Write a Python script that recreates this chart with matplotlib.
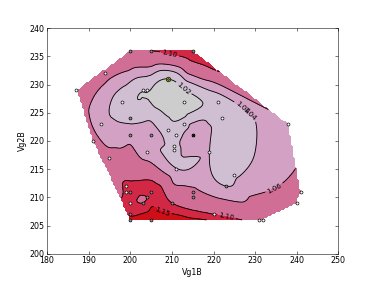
import numpy as np
import matplotlib
matplotlib.use("Agg")
import matplotlib.pyplot as plt
import matplotlib.tri as mtri

# measured points (Vg1B, Vg2B) and the value at each one
vg1 = [200, 205, 215, 194, 187, 209, 203, 204, 198, 213, 221, 200, 222, 193,
       238, 213, 209, 200, 205, 211, 215, 191, 210.4, 210.4, 204, 219, 195,
       211, 225, 223, 199, 199, 200, 205, 215, 241, 204, 215, 200, 203, 210,
       240, 200, 220, 200, 205, 231, 232]
vg2 = [236, 236, 236, 232, 229, 231, 229, 229, 227, 227, 227, 224, 224, 223,
       223, 223, 222, 221, 221, 221, 221, 220, 219.2, 218.4, 218, 218, 217,
       215, 214, 212, 212, 211, 211, 211, 211, 211, 210, 210, 209, 209, 209,
       209, 207, 207, 206, 206, 206, 206]
val = [1.095, 1.10, 1.13, 1.07, 1.08, 1.02, 1.021, 1.021, 1.03, 1.008, 1.03,
       1.035, 1.03, 1.05, 1.06, 1.028, 1.03, 1.052, 1.052, 1.03, 1.056, 1.07,
       1.035, 1.035, 1.05, 1.04, 1.07, 1.041, 1.038, 1.04, 1.105, 1.105, 1.11,
       1.12, 1.065, 1.07, 1.10, 1.068, 1.11, 1.10, 1.10, 1.075, 1.14, 1.10,
       1.17, 1.20, 1.09, 1.09]
# 1 = grey filled marker, 0 = white marker
grey_pt = [1, 1, 1, 0, 0, 1, 0, 0, 0, 0, 0, 1, 0, 0,
           0, 0, 0, 1, 1, 0, 1, 0, 0, 0, 0, 0, 0,
           0, 0, 1, 0, 0, 1, 1, 1, 0, 1, 1, 0, 1, 1,
           0, 1, 0, 1, 1, 0, 0]

levels = [0.9, 1.02, 1.04, 1.06, 1.10, 1.15, 1.3]
line_levels = [1.02, 1.04, 1.06, 1.10, 1.15]
band_colors = ['#cdcdcd', '#d0bed2', '#d3a1c3', '#d06e96', '#d22846', '#cf0f17']

best = (209, 231)
marked = (215, 221)


def main():
    x = np.array(vg1)
    y = np.array(vg2)
    z = np.array(val)
    g = np.array(grey_pt, dtype=bool)

    tri = mtri.Triangulation(x, y)
    interp = mtri.CubicTriInterpolator(tri, z, kind='geom')
    xi = np.linspace(x.min(), x.max(), 110)
    yi = np.linspace(y.min(), y.max(), 85)
    XI, YI = np.meshgrid(xi, yi)
    ZI = interp(XI, YI)

    fig = plt.figure(figsize=(8, 6), dpi=47)
    ax = fig.add_axes([0.125, 0.1, 0.775, 0.8])
    ax.contourf(XI, YI, ZI, levels=levels, colors=band_colors)
    cs = ax.contour(XI, YI, ZI, levels=line_levels, colors='k', linewidths=1.3)
    spots = [(209.5, 235.5), (211.5, 228.5), (227.4, 226.3), (226, 225),
             (233.2, 213.7), (223, 206.5), (207.2, 206.5)]
    ax.clabel(cs, fmt='%1.2f', fontsize=11, inline=True, manual=spots)

    ax.plot(x[~g], y[~g], 'o', mfc='w', mec='k', ms=4.5, mew=1.0)
    ax.plot(x[g], y[g], 'o', mfc='0.55', mec='k', ms=4.5, mew=1.0)
    ax.plot(best[0], best[1], 'o', mfc='#c8d820', mec='k', ms=7, mew=1.0)
    ax.plot(best[0], best[1], 'o', mfc='0.4', mec='k', ms=3, mew=0.8)
    ax.plot(marked[0], marked[1], 's', mfc='0.55', mec='k', ms=4.5, mew=1.0)
    ax.plot(marked[0], marked[1], 'x', color='k', ms=4.5, mew=1.0)

    ax.set_xlim(180, 250)
    ax.set_ylim(200, 240)
    ax.set_xlabel('Vg1B', fontsize=12)
    ax.set_ylabel('Vg2B', fontsize=12)
    ax.tick_params(direction='in', length=4, labelsize=12, top=True, right=True)
    fig.savefig('out.png', dpi=47)
    plt.close()


if __name__ == '__main__':
    main()
